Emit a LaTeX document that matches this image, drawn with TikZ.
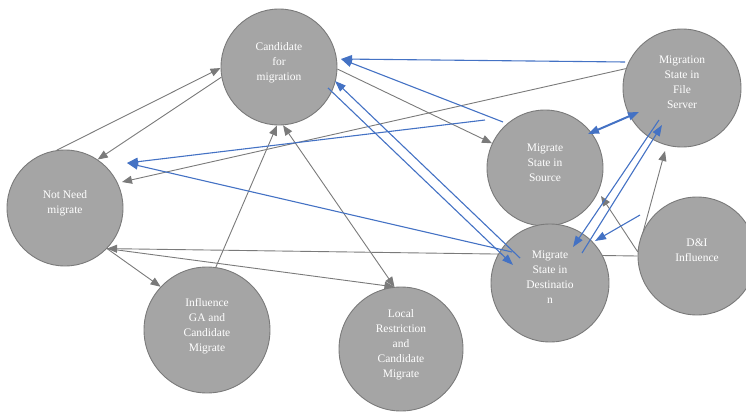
\documentclass[tikz,border=0pt]{standalone}
\usepackage{fontspec}
\setmainfont{Liberation Serif}
\usetikzlibrary{arrows.meta, calc, backgrounds}
\definecolor{nodegray}{HTML}{A5A5A5}
\definecolor{edgegray}{HTML}{7A7A7A}
\definecolor{linkblue}{HTML}{4472C4}
\tikzstyle{state} = [circle, fill=nodegray, draw=edgegray, line width=0.9pt, text=white, align=center, inner sep=0pt, text depth=11pt, font=\fontsize{11.5}{15}\selectfont]
\tikzstyle{arrow} = [->, >={Triangle[length=10pt,width=8pt]}, color=edgegray, line width=0.9pt]
\tikzstyle{barrow} = [->, >={Triangle[length=11pt,width=8pt]}, color=linkblue, line width=1.1pt]

\begin{document}
\begin{tikzpicture}[x=1pt, y=-1pt]
\useasboundingbox (0,0) rectangle (746,412);
%定义状态圆
\node[state, minimum size=116pt](cand) at (279,67){Candidate\\for\\migration};
\node[state, minimum size=116pt](noneed) at (65,208){Not Need\\migrate};
\node[state, minimum size=126pt](infl) at (207,330){Influence\\GA and\\Candidate\\Migrate};
\node[state, minimum size=124pt](local) at (401,349){Local\\Restriction\\and\\Candidate\\Migrate};
\node[state, minimum size=116pt](src) at (545,168){Migrate\\State in\\Source};
\node[state, minimum size=118pt](dest) at (550,283){Migrate\\State in\\Destinatio\\n};
\node[state, minimum size=118pt](fsrv) at (682,88){Migration\\State in\\File\\Server};
\node[state, minimum size=118pt](di) at (697,256){D\&I\\Influence};
%灰色连线
\begin{pgfonlayer}{background}
\draw [arrow] (noneed.98) -- (cand.181);
\draw [arrow] (cand.190) -- (noneed.56);
\draw [arrow] (fsrv.161) -- ($(noneed)+(57,-26)$);
\draw [arrow] (cand.-2) -- (src.155);
\draw [arrow] (infl.82) -- (cand.268);
\draw [arrow, <->] (cand.274) -- (local.96);
\draw [arrow] (di.180) -- (noneed.-44);
\draw [arrow] (noneed.-44) -- (local.96);
\draw [arrow] (noneed.-44) -- (infl.137);
\draw [arrow] (di.176) -- ($(fsrv)+(-17,63)$);
\draw [arrow] (di.176) -- ($(src)+(56,28)$);
\end{pgfonlayer}
%蓝色连线
\draw [barrow] ($(fsrv)+(-57,-26)$) -- ($(cand)+(62,-8)$);
\draw [barrow] ($(src)+(-42,-46)$) -- ($(cand)+(62,-8)$);
\draw [barrow] ($(cand)+(49,21)$) -- ($(dest)+(-37,-18)$);
\draw [barrow] ($(dest)+(-30,-25)$) -- ($(cand)+(56,14)$);
\draw [barrow] ($(src)+(-60,-48)$) -- ($(noneed)+(62,-45)$);
\draw [barrow] ($(dest)+(-38,-31)$) -- ($(noneed)+(62,-45)$);
\draw [barrow, <->, line width=2pt] ($(fsrv)+(-43,24)$) -- ($(src)+(43,-34)$);
\draw [barrow] ($(fsrv)+(-23,32)$) -- ($(dest)+(23,-36)$);
\draw [barrow] ($(dest)+(32,-30)$) -- ($(fsrv)+(-20,37)$);
\draw [barrow] ($(di)+(-57,-41)$) -- ($(dest)+(45,-42)$);
\end{tikzpicture}
\end{document}
